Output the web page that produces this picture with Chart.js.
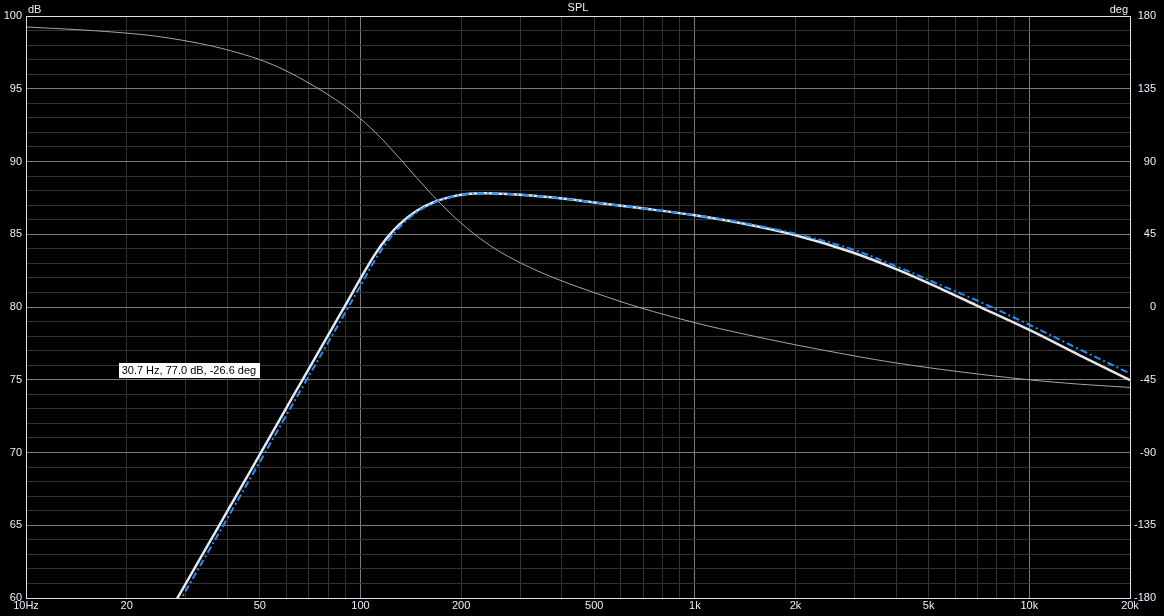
<!DOCTYPE html>
<html>
<head>
<meta charset="utf-8">
<script src="https://cdn.jsdelivr.net/npm/chart.js@4.4.1/dist/chart.umd.min.js"></script>
<style>
  html, body { margin: 0; padding: 0; background: #000; }
</style>
</head>
<body>
<canvas id="spl" width="1164" height="616"></canvas>
<script>
// frequencies (Hz) and SPL (dB)
var splFreq = [27, 28.5, 35, 40, 50, 60, 67.5, 80, 90, 100, 110, 120, 131, 147, 165.6, 185, 208, 233, 261, 300, 395, 500, 685, 1000, 1380, 2000, 2920, 4000, 5500, 6970, 10000, 14100, 20000];
var splWhite = [59.14, 60.08, 63.65, 65.97, 69.85, 73.05, 75.1, 78.05, 80.1, 81.95, 83.55, 84.75, 85.7, 86.6, 87.2, 87.55, 87.76, 87.82, 87.79, 87.72, 87.48, 87.19, 86.8, 86.3, 85.75, 84.93, 83.8, 82.6, 81.2, 80.1, 78.42, 76.7, 74.98];
var splBlue = [58.64, 59.58, 63.15, 65.47, 69.35, 72.55, 74.6, 77.55, 79.6, 81.45, 83.15, 84.45, 85.5, 86.5, 87.15, 87.53, 87.76, 87.82, 87.79, 87.72, 87.48, 87.19, 86.8, 86.32, 85.8, 85.03, 84.0, 82.8, 81.45, 80.45, 78.78, 77.1, 75.44];

// phase (deg), right axis
var phaseFreq = [10, 15, 20, 25, 33, 40, 50, 60, 70.7, 80, 88.9, 100, 115, 131, 147, 165, 185, 208, 228, 261, 320, 395, 500, 685, 1000, 1400, 2000, 3000, 4000, 6000, 10000, 14000, 20000];
var phaseDeg = [173.2, 171.26, 169.39, 167.26, 163.04, 159.03, 153.02, 146.05, 138.06, 131.35, 124.94, 116.51, 104.67, 91.93, 80.18, 68.73, 58.29, 48.87, 42.39, 34.17, 24.64, 16.59, 8.91, -0.39, -9.7, -16.71, -23.38, -30.24, -34.61, -39.71, -45.04, -47.67, -49.76];

// axis ticks
var xTicks = [10, 20, 30, 40, 50, 60, 70, 80, 90, 100, 200, 300, 400, 500, 600, 700, 800, 900, 1000, 2000, 3000, 4000, 5000, 6000, 7000, 8000, 9000, 10000, 20000];
var xLabels = {10: '10Hz', 20: '20', 50: '50', 100: '100', 200: '200', 500: '500', 1000: '1k', 2000: '2k', 5000: '5k', 10000: '10k', 20000: '20k'};

// cursor readout
var cursorFreq = 30.7;
var cursorDb = 77.0;
var cursorDeg = -26.6;

var textColor = '#e8f0ff';
var majorGrid = '#7a7a7a';
var minorGrid = '#333333';
var tickFont = { family: 'Liberation Sans', size: 11 };

function pairs(xs, ys) {
    return xs.map(function (x, i) { return { x: x, y: ys[i] }; });
}

function isDecade(v) {
    var l = Math.log10(v);
    return Math.abs(l - Math.round(l)) < 1e-9;
}

var overlay = {
    id: 'overlay',
    beforeDraw: function (chart) {
        var ctx = chart.ctx;
        ctx.save();
        ctx.fillStyle = '#000';
        ctx.fillRect(0, 0, chart.width, chart.height);
        ctx.restore();
    },
    afterDraw: function (chart) {
        var ctx = chart.ctx;
        var a = chart.chartArea;
        ctx.save();
        //Frame
        ctx.strokeStyle = '#e0e0e0';
        ctx.lineWidth = 1;
        ctx.strokeRect(a.left + 0.5, a.top + 0.5, a.right - a.left, a.bottom - a.top);

        //Titles
        ctx.fillStyle = textColor;
        ctx.font = '11px "Liberation Sans"';
        ctx.textBaseline = 'alphabetic';
        ctx.textAlign = 'center';
        ctx.fillText('SPL', (a.left + a.right) / 2, 11);
        ctx.textAlign = 'left';
        ctx.fillText('dB', a.left + 2, 13);
        ctx.textAlign = 'right';
        ctx.fillText('deg', a.right - 2, 13);

        //Cursor readout box
        var label = cursorFreq.toFixed(1) + ' Hz, ' + cursorDb.toFixed(1) + ' dB, ' + cursorDeg.toFixed(1) + ' deg';
        var cx = chart.scales.x.getPixelForValue(cursorFreq);
        var cy = chart.scales.y.getPixelForValue(cursorDb) + 12;
        var w = ctx.measureText(label).width + 6;
        ctx.fillStyle = '#fff';
        ctx.fillRect(Math.round(cx - w / 2), Math.round(cy), Math.round(w), 15);
        ctx.fillStyle = '#000';
        ctx.textAlign = 'center';
        ctx.textBaseline = 'middle';
        ctx.fillText(label, cx, cy + 8);
        ctx.restore();
    }
};

var ctx = document.getElementById('spl').getContext('2d');
var chart = new Chart(ctx, {
    type: 'line',
    data: {
        datasets: [
            {
                data: pairs(splFreq, splBlue),
                borderColor: '#1e8fff',
                borderWidth: 2,
                borderDash: [7, 3, 2, 3],
                yAxisID: 'y',
                order: 0
            },
            {
                data: pairs(splFreq, splWhite),
                borderColor: '#e6e6e6',
                borderWidth: 2.5,
                yAxisID: 'y',
                order: 1
            },
            {
                data: pairs(phaseFreq, phaseDeg),
                borderColor: '#a6a6a6',
                borderWidth: 1,
                yAxisID: 'y1',
                order: 2
            }
        ]
    },
    options: {
        responsive: false,
        animation: false,
        events: [],
        layout: { padding: { top: 16, right: 8, left: 0, bottom: 0 } },
        elements: {
            point: { radius: 0 },
            line: { tension: 0.35, fill: false }
        },
        plugins: {
            legend: { display: false },
            tooltip: { enabled: false }
        },
        scales: {
            x: {
                type: 'logarithmic',
                min: 10,
                max: 20000,
                afterBuildTicks: function (scale) {
                    scale.ticks = xTicks.map(function (v) { return { value: v }; });
                },
                afterFit: function (scale) { scale.height = 18; },
                ticks: {
                    autoSkip: false,
                    maxRotation: 0,
                    padding: 1,
                    color: textColor,
                    font: tickFont,
                    callback: function (v) { return xLabels[v] || ''; }
                },
                grid: {
                    drawTicks: false,
                    color: function (c) { return c.tick && isDecade(c.tick.value) ? majorGrid : minorGrid; }
                },
                border: { display: false }
            },
            y: {
                position: 'left',
                min: 60,
                max: 100,
                afterFit: function (scale) { scale.width = 26; },
                ticks: {
                    stepSize: 1,
                    autoSkip: false,
                    padding: 4,
                    color: textColor,
                    font: tickFont,
                    callback: function (v) { return v % 5 === 0 ? String(v) : ''; }
                },
                grid: {
                    drawTicks: false,
                    color: function (c) { return c.tick && c.tick.value % 5 === 0 ? majorGrid : minorGrid; }
                },
                border: { display: false }
            },
            y1: {
                position: 'right',
                min: -180,
                max: 180,
                afterFit: function (scale) { scale.width = 26; },
                ticks: {
                    stepSize: 45,
                    autoSkip: false,
                    crossAlign: 'far',
                    color: textColor,
                    font: tickFont
                },
                grid: { display: false, drawTicks: false },
                border: { display: false }
            }
        }
    },
    plugins: [overlay]
});
</script>
</body>
</html>
